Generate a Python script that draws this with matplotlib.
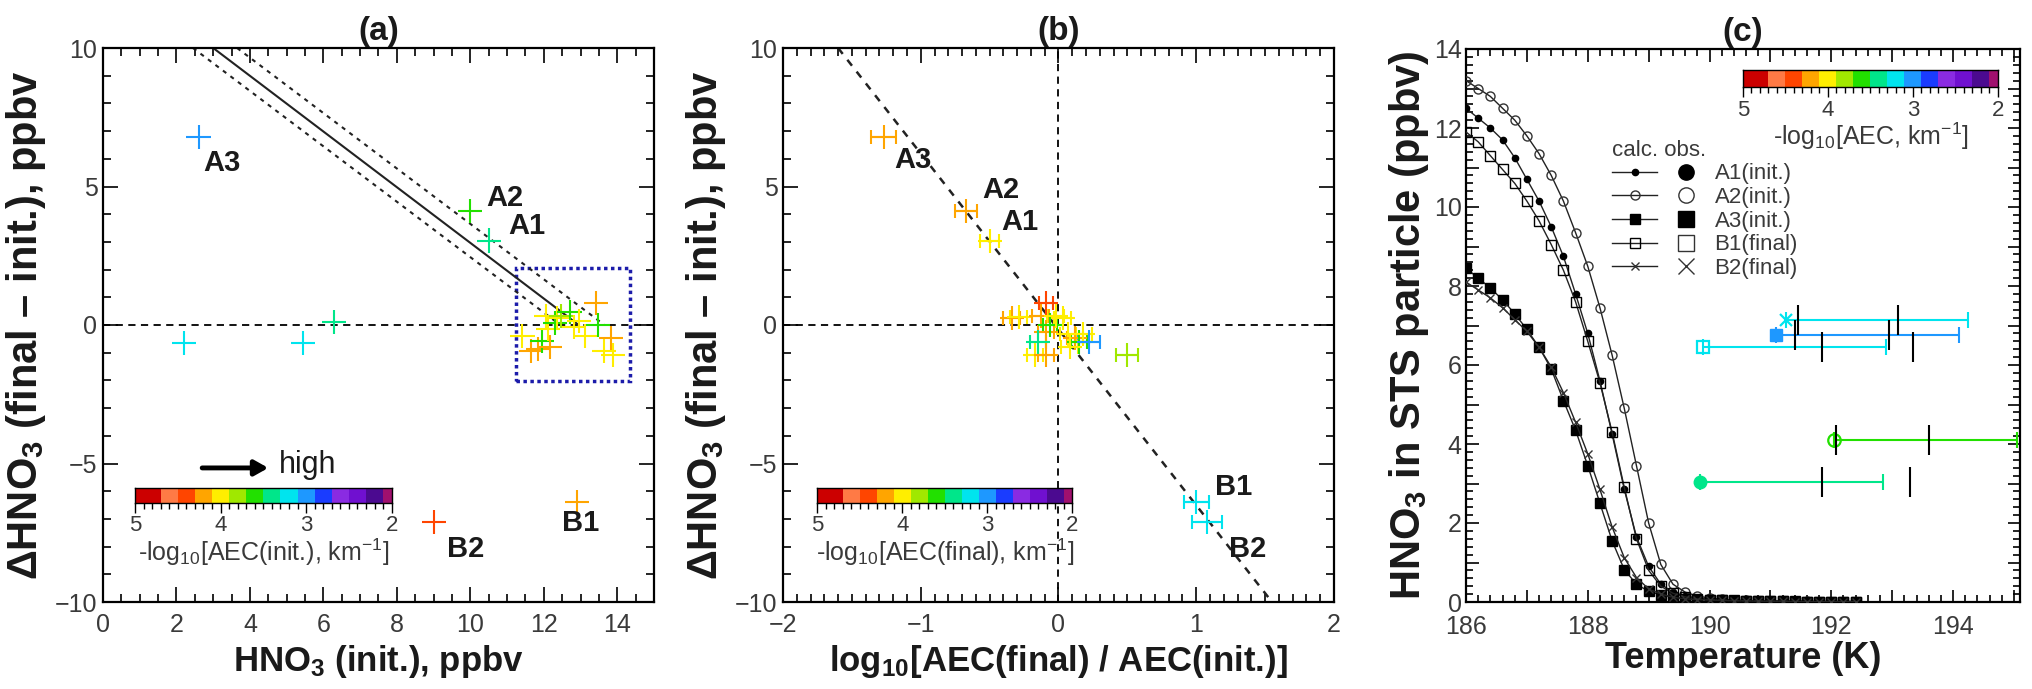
import numpy as np
import matplotlib
matplotlib.use('Agg')
import matplotlib.pyplot as plt
from matplotlib.colors import ListedColormap, BoundaryNorm
from matplotlib.ticker import MultipleLocator, FuncFormatter, FixedLocator
from matplotlib.patches import Rectangle
from matplotlib.lines import Line2D

plt.rcParams['font.family'] = ['Liberation Sans', 'DejaVu Sans']
plt.rcParams['mathtext.fontset'] = 'custom'
plt.rcParams['mathtext.rm'] = 'Liberation Sans'
plt.rcParams['mathtext.bf'] = 'Liberation Sans:bold'
plt.rcParams['mathtext.default'] = 'regular'

# ---- colour scale  -log10(AEC)
aec_bounds = [2.0, 2.1, 2.3, 2.5, 2.7, 2.9, 3.1, 3.3, 3.5, 3.7, 3.9, 4.1, 4.3, 4.5, 4.7, 5.0]
aec_colors = ['#a0106e', '#4b0a90', '#7010d0', '#8a2be2', '#1a3cff', '#1e98ff',
              '#00e4ee', '#00e68a', '#22e000', '#a0e800', '#ffee00', '#ffa500',
              '#ff4500', '#ff7a45', '#cc0000']
cbar_ticks = [5, 4, 3, 2]
cmap = ListedColormap(aec_colors)
norm = BoundaryNorm(aec_bounds, cmap.N)

# ---- panel (a)
a_hno3_init = [2.6, 10.0, 10.5, 2.2, 5.45, 6.3, 9.0, 12.9,
               11.42, 11.65, 11.83, 11.95, 12.07, 12.12, 12.18, 12.3, 12.36, 12.48,
               12.7, 12.83, 12.95, 13.12, 13.41, 13.47, 13.65, 13.83, 13.88]
a_dhno3 = [6.8, 4.1, 3.05, -0.65, -0.65, 0.1, -7.1, -6.4,
           -0.4, -0.95, -0.87, -0.56, 0.32, -0.16, -0.8, 0.08, 0.24, 0.32,
           0.48, -0.08, 0.16, -0.4, 0.8, 0.0, -0.95, -0.48, -1.1]
a_aec_init = [3.0, 3.6, 3.4, 3.2, 3.2, 3.4, 4.4, 4.2,
              4.0, 4.2, 4.2, 3.6, 4.0, 4.0, 4.2, 3.6, 4.0, 3.8,
              3.6, 4.0, 4.0, 4.0, 4.2, 3.6, 4.0, 4.2, 4.0]
a_labels = ['A3', 'A2', 'A1', 'B2', 'B1']
a_label_x = [3.24, 10.95, 11.55, 9.88, 12.99]
a_label_y = [5.85, 4.6, 3.57, -8.09, -7.15]
# HNO3(final) = const lines
line_y = [10, 0]
line_x = [3.0, 12.95]
line_lo_x = [2.45, 12.45]
line_hi_x = [3.65, 13.65]
box_x = [11.25, 14.35]
box_y = [-2.03, 2.05]

# ---- panel (b)
b_ratio = [-1.27, -0.67, -0.5, 1.0, 1.08,
           -0.34, -0.29, -0.13, -0.09, -0.09, -0.06, -0.02, 0.03, -0.15,
           -0.17, -0.09, 0.07, 0.12, 0.15, 0.18, 0.22, 0.5, 0.08]
b_ratio_err = [0.09, 0.08, 0.07, 0.09, 0.11,
               0.06, 0.06, 0.06, 0.05, 0.06, 0.05, 0.06, 0.06, 0.06,
               0.06, 0.06, 0.06, 0.06, 0.06, 0.06, 0.08, 0.08, 0.06]
b_dhno3 = [6.8, 4.1, 3.05, -6.4, -7.1,
           0.25, 0.3, 0.32, 0.8, -0.24, 0.0, 0.32, 0.24, -0.63,
           -1.1, -1.1, -0.32, -0.48, -0.63, -0.32, -0.63, -1.1, -0.8]
b_aec_final = [4.2, 4.2, 4.0, 3.2, 3.2,
               4.2, 4.0, 4.2, 4.4, 4.2, 3.6, 4.0, 4.0, 3.4,
               4.0, 4.2, 4.0, 4.2, 3.6, 4.0, 3.0, 3.8, 4.0]
b_labels = ['A3', 'A2', 'A1', 'B1', 'B2']
b_label_x = [-1.06, -0.42, -0.28, 1.27, 1.37]
b_label_y = [5.96, 4.88, 3.72, -5.85, -8.09]
fit_x = [-1.6, 1.55]
fit_y = [10, -10]

# ---- panel (c)
temp = [186.0, 186.2, 186.4, 186.6, 186.8, 187.0, 187.2, 187.4, 187.6, 187.8, 188.0,
        188.2, 188.4, 188.6, 188.8, 189.0, 189.2, 189.4, 189.6, 189.8, 190.0, 190.2,
        190.4, 190.6, 190.8, 191.0, 191.2, 191.4, 191.6, 191.8, 192.0, 192.2, 192.4]
calc_a1 = [12.5, 12.25, 12.0, 11.7, 11.25, 10.7, 10.15, 9.5, 8.75, 7.8, 6.8, 5.6, 4.25,
           2.85, 1.65, 0.9, 0.45, 0.25, 0.15, 0.1, 0.07, 0.05, 0.04, 0.03, 0.03, 0.02,
           0.02, 0.02, 0.01, 0.01, 0.01, 0.01, 0.01]
calc_a2 = [13.2, 13.0, 12.8, 12.5, 12.2, 11.8, 11.35, 10.8, 10.15, 9.35, 8.5, 7.45, 6.25,
           4.9, 3.45, 2.0, 0.95, 0.45, 0.25, 0.15, 0.1, 0.07, 0.05, 0.04, 0.03, 0.03,
           0.02, 0.02, 0.02, 0.01, 0.01, 0.01, 0.01]
calc_a3 = [8.45, 8.2, 7.95, 7.65, 7.3, 6.9, 6.45, 5.9, 5.1, 4.35, 3.45, 2.5, 1.55, 0.82,
           0.45, 0.27, 0.18, 0.12, 0.08, 0.06, 0.05, 0.04, 0.03, 0.03, 0.02, 0.02, 0.02,
           0.01, 0.01, 0.01, 0.01, 0.01, 0.01]
calc_b1 = [11.9, 11.65, 11.3, 10.95, 10.6, 10.15, 9.65, 9.05, 8.4, 7.6, 6.6, 5.55, 4.3,
           2.9, 1.6, 0.8, 0.4, 0.22, 0.13, 0.08, 0.06, 0.05, 0.04, 0.03, 0.03, 0.02,
           0.02, 0.02, 0.01, 0.01, 0.01, 0.01, 0.01]
calc_b2 = [8.1, 7.9, 7.7, 7.45, 7.15, 6.85, 6.45, 5.95, 5.3, 4.55, 3.75, 2.85, 1.9, 1.12,
           0.62, 0.33, 0.2, 0.12, 0.08, 0.06, 0.05, 0.04, 0.03, 0.03, 0.02, 0.02, 0.02,
           0.01, 0.01, 0.01, 0.01, 0.01, 0.01]
series_names = ['A1(init.)', 'A2(init.)', 'A3(init.)', 'B1(final)', 'B2(final)']
obs_temp = [189.85, 192.05, 191.1, 189.9, 191.25]
obs_temp_hi = [192.85, 195.05, 194.1, 192.9, 194.25]
obs_hno3 = [3.05, 4.1, 6.75, 6.45, 7.15]
obs_aec = [3.4, 3.6, 3.0, 3.2, 3.2]
obs_marks = [[191.85, 193.3], [192.07, 193.6], [191.4, 192.95], [191.85, 193.35], [191.45, 193.1]]

TXT = '#1a1a1a'
TICK = '#3a3a3a'


def style_axes(ax, xpad=8, ypad=4):
    for s in ax.spines.values():
        s.set_linewidth(1.6)
    ax.tick_params(which='both', direction='in', top=True, right=True, width=1.2,
                   labelsize=18, labelcolor=TICK)
    ax.tick_params(which='major', length=11)
    ax.tick_params(which='minor', length=6)
    ax.tick_params(axis='x', pad=xpad)
    ax.tick_params(axis='y', pad=ypad)


def draw_cbar(ax, rect, label):
    cax = ax.inset_axes(rect)
    mids = np.array([[(aec_bounds[i] + aec_bounds[i + 1]) / 2 for i in range(len(aec_bounds) - 1)]])
    cax.pcolormesh(aec_bounds, [0, 1], mids, cmap=cmap, norm=norm)
    cax.set_xlim(5, 2)
    cax.set_ylim(0, 1)
    cax.set_yticks([])
    cax.xaxis.set_major_locator(FixedLocator(cbar_ticks))
    cax.xaxis.set_minor_locator(FixedLocator(np.linspace(2, 5, 31)))
    cax.tick_params(which='both', direction='out', width=1.0, labelsize=16,
                    labelcolor=TICK, pad=2)
    cax.tick_params(which='major', length=7)
    cax.tick_params(which='minor', length=4)
    for s in cax.spines.values():
        s.set_linewidth(1.0)
    cax.set_xlabel(label, fontsize=18, color=TICK, labelpad=0)
    return cax


fig = plt.figure(figsize=(20.33, 6.89), dpi=100)
axa = fig.add_axes([103 / 2033, 87 / 689, 551 / 2033, 554 / 689])
axb = fig.add_axes([783 / 2033, 87 / 689, 551 / 2033, 554 / 689])
axc = fig.add_axes([1466 / 2033, 87 / 689, 554 / 2033, 553 / 689])

# ---------------- (a)
axa.axhline(0, color='k', ls='--', lw=1.3, dashes=(4, 3))
axa.plot(line_x, line_y, color='#222222', lw=1.5)
axa.plot(line_lo_x, line_y, color='#222222', lw=1.5, ls=(0, (2, 2.5)))
axa.plot(line_hi_x, line_y, color='#222222', lw=1.5, ls=(0, (2, 2.5)))
axa.add_patch(Rectangle((box_x[0], box_y[0]), box_x[1] - box_x[0], box_y[1] - box_y[0],
                        fill=False, ec='#1c1caa', lw=2.5, ls=(0, (1, 1))))
axa.scatter(a_hno3_init, a_dhno3, c=a_aec_init, cmap=cmap, norm=norm, marker='+',
            s=300, linewidths=1.5, zorder=3)
for t, x, y in zip(a_labels, a_label_x, a_label_y):
    axa.text(x, y, t, fontsize=21, fontweight='bold', color=TXT, ha='center', va='center')
axa.set_xlim(0, 15)
axa.set_ylim(-10, 10)
axa.xaxis.set_major_locator(MultipleLocator(2))
axa.xaxis.set_minor_locator(MultipleLocator(0.5))
axa.yaxis.set_major_locator(MultipleLocator(5))
axa.yaxis.set_minor_locator(MultipleLocator(1))
style_axes(axa)
axa.set_xlabel('HNO$_3$ (init.), ppbv', fontsize=25, fontweight='bold', color=TXT, labelpad=4)
axa.set_ylabel('ΔHNO$_3$ (final – init.), ppbv', fontsize=30, fontweight='bold', color=TXT,
               labelpad=5)
axa.set_title('(a)', fontsize=24, fontweight='bold', color=TXT, pad=6)
draw_cbar(axa, [0.058, 0.179, 0.466, 0.027], '-log$_{10}$[AEC(init.), km$^{-1}$]')
axa.annotate('', xy=(0.30, 0.242), xytext=(0.18, 0.242), xycoords='axes fraction',
             arrowprops=dict(arrowstyle='-|>,head_length=0.8,head_width=0.45', lw=3.5,
                             color='k', shrinkA=0, shrinkB=0))
axa.text(0.32, 0.248, 'high', transform=axa.transAxes, fontsize=22, color=TXT,
         ha='left', va='center')

# ---------------- (b)
axb.axhline(0, color='k', ls='--', lw=1.3, dashes=(4, 3))
axb.axvline(0, color='k', ls='--', lw=1.3, dashes=(4, 3))
axb.plot(fit_x, fit_y, color='#222222', lw=1.8, ls=(0, (3, 3)))
for x, xe, y, v in zip(b_ratio, b_ratio_err, b_dhno3, b_aec_final):
    c = cmap(norm(v))
    axb.errorbar(x, y, xerr=xe, fmt='+', color=c, ecolor=c, ms=17, mew=1.5,
                 elinewidth=1.5, capsize=5, capthick=1.5, zorder=3)
for t, x, y in zip(b_labels, b_label_x, b_label_y):
    axb.text(x, y, t, fontsize=21, fontweight='bold', color=TXT, ha='center', va='center')
axb.set_xlim(-2, 2)
axb.set_ylim(-10, 10)
axb.xaxis.set_major_locator(MultipleLocator(1))
axb.xaxis.set_minor_locator(MultipleLocator(0.1))
axb.yaxis.set_major_locator(MultipleLocator(5))
axb.yaxis.set_minor_locator(MultipleLocator(1))
style_axes(axb)
axb.set_xlabel('log$_{10}$[AEC(final) / AEC(init.)]', fontsize=25, fontweight='bold',
               color=TXT, labelpad=4)
axb.set_ylabel('ΔHNO$_3$ (final – init.), ppbv', fontsize=30, fontweight='bold', color=TXT,
               labelpad=5)
axb.set_title('(b)', fontsize=24, fontweight='bold', color=TXT, pad=6)
draw_cbar(axb, [0.062, 0.179, 0.463, 0.027], '-log$_{10}$[AEC(final), km$^{-1}$]')

# ---------------- (c)
calc_series = [calc_a1, calc_a2, calc_a3, calc_b1, calc_b2]
calc_style = [dict(marker='o', ms=4.5, mfc='k', mec='k'),
              dict(marker='o', ms=6.5, mfc='none', mec='#333333', mew=1.0),
              dict(marker='s', ms=6.5, mfc='k', mec='k'),
              dict(marker='s', ms=6.5, mfc='none', mec='k', mew=1.0),
              dict(marker='x', ms=5.5, mec='#333333', mew=1.0)]
obs_style = [dict(marker='o', ms=11, mfc='k', mec='k'),
             dict(marker='o', ms=11, mfc='none', mec='#333333', mew=1.0),
             dict(marker='s', ms=11, mfc='k', mec='k'),
             dict(marker='s', ms=11, mfc='none', mec='#333333', mew=1.0),
             dict(marker='x', ms=11, mec='#333333', mew=1.0)]
for vals, st in zip(calc_series, calc_style):
    axc.plot(temp, vals, color='#222222', lw=1.0, zorder=3, **st)

obs_fill = [True, False, True, False, False]
for i in range(len(obs_temp)):
    c = cmap(norm(obs_aec[i]))
    st = dict(obs_style[i])
    st['ms'] = 9
    if obs_fill[i]:
        st['mfc'] = c
        st['mec'] = c
    else:
        st['mec'] = c
        st['mfc'] = 'none'
        st['mew'] = 1.6
    axc.errorbar(obs_temp[i], obs_hno3[i],
                 xerr=[[0], [obs_temp_hi[i] - obs_temp[i]]],
                 fmt='none', ecolor=c, elinewidth=1.5, capsize=6, capthick=1.5, zorder=4)
    axc.plot(obs_temp[i], obs_hno3[i], ls='none', zorder=5, **st)
    axc.plot(obs_marks[i], [obs_hno3[i]] * 2, ls='none', marker='|', ms=22, mew=1.5,
             color='k', zorder=6)

axc.set_xlim(186, 195.1)
axc.set_ylim(0, 14)
axc.xaxis.set_major_locator(MultipleLocator(1))
axc.xaxis.set_minor_locator(MultipleLocator(0.2))
axc.yaxis.set_major_locator(MultipleLocator(1))
axc.yaxis.set_minor_locator(MultipleLocator(0.2))
axc.xaxis.set_major_formatter(FuncFormatter(lambda v, p: '%d' % v if round(v) % 2 == 0 else ''))
axc.yaxis.set_major_formatter(FuncFormatter(lambda v, p: '%d' % v if round(v) % 2 == 0 else ''))
style_axes(axc, xpad=9, ypad=3)
axc.tick_params(which='major', length=9)
axc.tick_params(which='minor', length=5)
axc.set_xlabel('Temperature (K)', fontsize=26, fontweight='bold', color=TXT, labelpad=2)
axc.set_ylabel('HNO$_3$ in STS particle (ppbv)', fontsize=30, fontweight='bold', color=TXT,
               labelpad=2)
axc.set_title('(c)', fontsize=24, fontweight='bold', color=TXT, pad=6)
draw_cbar(axc, [0.50, 0.931, 0.460, 0.031], '-log$_{10}$[AEC, km$^{-1}$]')

calc_handles = [Line2D([0], [0], color='#222222', lw=1.0, **st) for st in calc_style]
obs_handles = [Line2D([0], [0], ls='none', **st) for st in obs_style]
leg = axc.legend(calc_handles + obs_handles, [''] * 5 + series_names, ncol=2,
                 loc='upper left', bbox_to_anchor=(0.24, 0.86), frameon=False,
                 fontsize=16, handlelength=2.0, handletextpad=0.3, columnspacing=0.0,
                 labelspacing=0.12, title='calc. obs.', title_fontsize=16,
                 alignment='left', borderpad=0.1)
for t in leg.get_texts():
    t.set_color(TICK)
leg.get_title().set_color(TICK)

fig.savefig('out.png', dpi=100)
